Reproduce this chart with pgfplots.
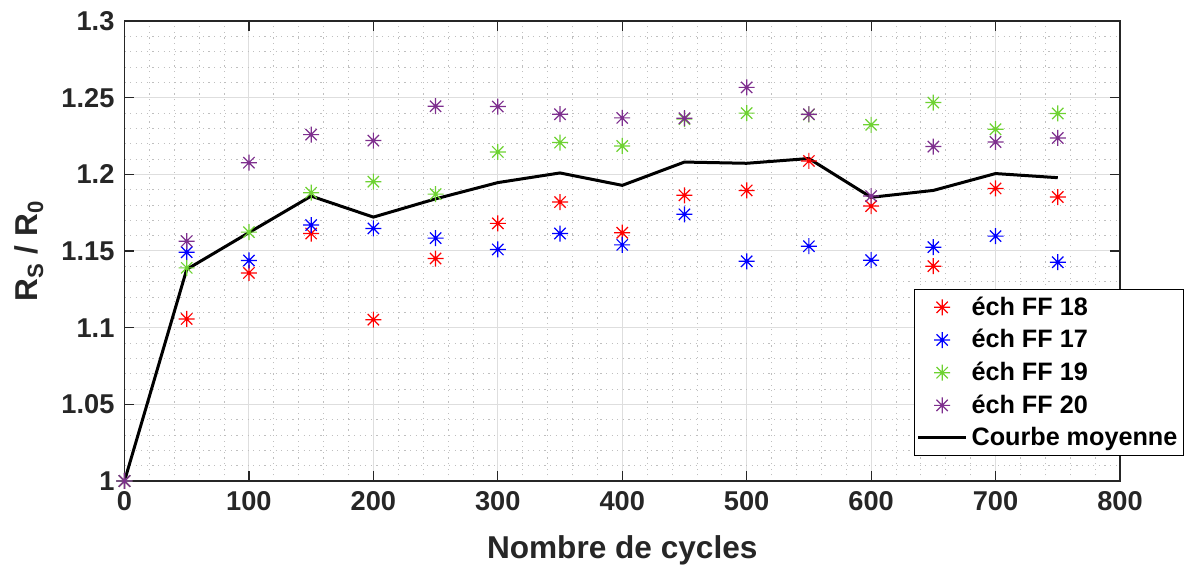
\documentclass[border=0pt]{standalone}
\usepackage{fontspec}
\setmainfont{Liberation Sans}
\usepackage{pgfplots}
\usepackage{pgfplotstable}
\pgfplotsset{compat=1.18}
\definecolor{txt}{RGB}{38,38,38}
\definecolor{cgreen}{RGB}{110,210,50}
\definecolor{cpurple}{RGB}{126,47,142}
\pgfdeclareplotmark{mstar}{%
  \pgfpathmoveto{\pgfqpoint{0pt}{\pgfplotmarksize}}%
  \pgfpathlineto{\pgfqpoint{0pt}{-\pgfplotmarksize}}%
  \pgfpathmoveto{\pgfqpoint{\pgfplotmarksize}{0pt}}%
  \pgfpathlineto{\pgfqpoint{-\pgfplotmarksize}{0pt}}%
  \pgfpathmoveto{\pgfqpoint{0.707\pgfplotmarksize}{0.707\pgfplotmarksize}}%
  \pgfpathlineto{\pgfqpoint{-0.707\pgfplotmarksize}{-0.707\pgfplotmarksize}}%
  \pgfpathmoveto{\pgfqpoint{-0.707\pgfplotmarksize}{0.707\pgfplotmarksize}}%
  \pgfpathlineto{\pgfqpoint{0.707\pgfplotmarksize}{-0.707\pgfplotmarksize}}%
  \pgfusepathqstroke
  \pgfpathcircle{\pgfpointorigin}{0.9pt}\pgfusepathqfill
}
\pgfplotstableread{
x y
0 1.000
50 1.1057
100 1.1357
150 1.1614
200 1.1052
250 1.1451
300 1.1680
350 1.1819
400 1.1619
450 1.1863
500 1.1895
550 1.2087
600 1.1793
650 1.1401
700 1.1908
750 1.1852
}\ffeighteen
\pgfplotstableread{
x y
0 1.000
50 1.1492
100 1.1438
150 1.1669
200 1.1647
250 1.1584
300 1.1510
350 1.1614
400 1.1540
450 1.1739
500 1.1433
550 1.1531
600 1.1440
650 1.1525
700 1.1597
750 1.1427
}\ffseventeen
\pgfplotstableread{
x y
0 1.000
50 1.1390
100 1.1623
150 1.1880
200 1.1952
250 1.1871
300 1.2146
350 1.2207
400 1.2185
450 1.2360
500 1.2399
550 1.2390
600 1.2323
650 1.2468
700 1.2294
750 1.2397
}\ffnineteen
\pgfplotstableread{
x y
0 1.000
50 1.1564
100 1.2076
150 1.2259
200 1.2220
250 1.2444
300 1.2442
350 1.2392
400 1.2368
450 1.2366
500 1.2567
550 1.2392
600 1.1858
650 1.2181
700 1.2211
750 1.2237
}\fftwenty
\pgfplotstableread{
x y
0 1.000
50 1.1380
100 1.1620
150 1.1858
200 1.1721
250 1.1840
300 1.1946
350 1.2009
400 1.1928
450 1.2080
500 1.2072
550 1.2103
600 1.1850
650 1.1895
700 1.2005
750 1.1978
}\moyenne
\begin{document}
\begin{tikzpicture}
\useasboundingbox (-62.25pt,-42.5pt) rectangle (530.25pt,240.5pt);
\begin{axis}[
  scale only axis, width=497.75pt, height=230pt,
  xmin=0, xmax=800, ymin=1, ymax=1.3,
  xtick={0,100,200,300,400,500,600,700,800},
  ytick={1,1.05,1.1,1.15,1.2,1.25,1.3},
  yticklabels={1,1.05,1.1,1.15,1.2,1.25,1.3},
  minor x tick num=4, minor y tick num=4,
  grid=both,
  major grid style={draw=black!13, line width=0.5pt},
  minor grid style={draw=black!25, dash pattern=on 0.6pt off 2.2pt, line width=0.4pt},
  tick align=inside, major tick length=5pt, minor tick length=0pt,
  axis line style={txt, line width=0.6pt},
  every tick/.style={txt, line width=0.6pt},
  /pgf/number format/assume math mode=true,
  ticklabel style={font=\bfseries\fontsize{13.6}{15}\selectfont, text=txt},
  xticklabel style={yshift=-1.5pt},
  yticklabel style={xshift=-1.5pt},
  xlabel={Nombre de cycles},
  ylabel={R\textsubscript{S} / R\textsubscript{0}},
  label style={font=\bfseries\fontsize{15.8}{18}\selectfont, text=txt},
  xlabel style={at={(axis description cs:0.5,-0.150)}, anchor=center},
  ylabel style={at={(axis description cs:-0.096,0.5)}, anchor=center, rotate=0},
  legend style={at={(1.0643,0.4174)}, anchor=north east, draw=black, line width=0.6pt,
    fill=white, font=\bfseries\fontsize{12.6}{14.5}\selectfont, text=black,
    row sep=1.6pt, inner xsep=1pt, inner ysep=1.5pt},
  legend cell align=left,
  legend image code/.code={\draw[mark repeat=2,mark phase=2,#1] plot coordinates {(0cm,0cm) (0.42cm,0cm) (0.84cm,0cm)};},
]
\addplot[only marks, mark=mstar, mark size=4pt, red, line width=0.6pt] table {\ffeighteen};
\addlegendentry{éch FF 18}
\addplot[only marks, mark=mstar, mark size=4pt, blue, line width=0.6pt] table {\ffseventeen};
\addlegendentry{éch FF 17}
\addplot[only marks, mark=mstar, mark size=4pt, cgreen, line width=0.6pt] table {\ffnineteen};
\addlegendentry{éch FF 19}
\addplot[only marks, mark=mstar, mark size=4pt, cpurple, line width=0.6pt] table {\fftwenty};
\addlegendentry{éch FF 20}
\addplot[black, line width=1.5pt, no marks] table {\moyenne};
\addlegendentry{Courbe moyenne}
\end{axis}
\end{tikzpicture}
\end{document}
